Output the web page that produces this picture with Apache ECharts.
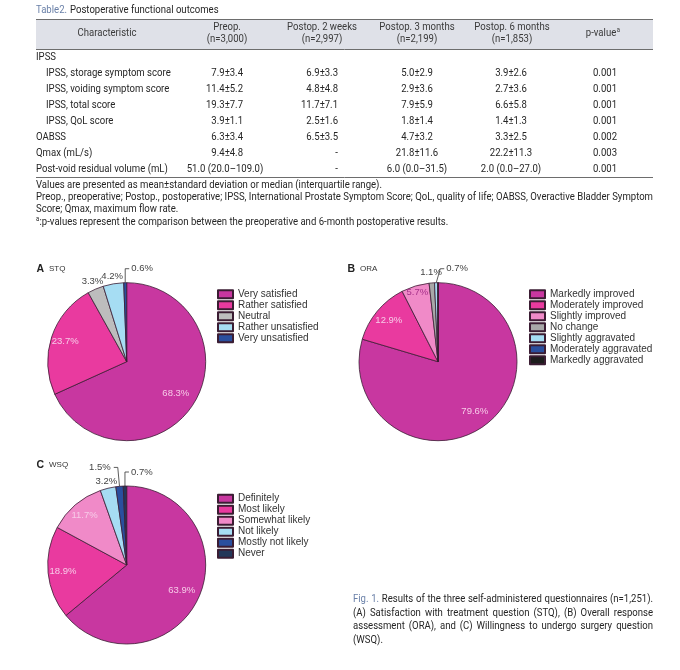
<!DOCTYPE html>
<html><head><meta charset="utf-8">
<script src="https://cdn.jsdelivr.net/npm/echarts@6/dist/echarts.min.js"></script>
<style>html,body{margin:0;padding:0;background:#fff}#c{width:680px;height:670px}</style>
</head><body><div id="c"></div><script>
// ---------------- DATA ----------------
const tableTitleTag = 'Table2.';
const tableTitleText = 'Postoperative functional outcomes';
const headerCharacteristic = 'Characteristic';
const headerGroups = ['Preop.', 'Postop. 2 weeks', 'Postop. 3 months', 'Postop. 6 months'];
const headerCounts = ['(n=3,000)', '(n=2,997)', '(n=2,199)', '(n=1,853)'];
const headerPValue = 'p-value';
const rowLabels = ['IPSS', 'IPSS, storage symptom score', 'IPSS, voiding symptom score', 'IPSS, total score', 'IPSS, QoL score', 'OABSS', 'Qmax (mL/s)', 'Post-void residual volume (mL)'];
const rowIndent = [0, 1, 1, 1, 1, 0, 0, 0];
const colPreop = ['', '7.9±3.4', '11.4±5.2', '19.3±7.7', '3.9±1.1', '6.3±3.4', '9.4±4.8', '51.0 (20.0–109.0)'];
const colWeek2 = ['', '6.9±3.3', '4.8±4.8', '11.7±7.1', '2.5±1.6', '6.5±3.5', '-', '-'];
const colMonth3 = ['', '5.0±2.9', '2.9±3.6', '7.9±5.9', '1.8±1.4', '4.7±3.2', '21.8±11.6', '6.0 (0.0–31.5)'];
const colMonth6 = ['', '3.9±2.6', '2.7±3.6', '6.6±5.8', '1.4±1.3', '3.3±2.5', '22.2±11.3', '2.0 (0.0–27.0)'];
const colPValue = ['', '0.001', '0.001', '0.001', '0.001', '0.002', '0.003', '0.001'];
const footnote1 = 'Values are presented as mean±standard deviation or median (interquartile range).';
const footnote2 = 'Preop., preoperative; Postop., postoperative; IPSS, International Prostate Symptom Score; QoL, quality of life; OABSS, Overactive Bladder Symptom';
const footnote3 = 'Score; Qmax, maximum flow rate.';
const footnote4 = ':p-values represent the comparison between the preoperative and 6-month postoperative results.';

const stqNames = ['Very satisfied', 'Rather satisfied', 'Neutral', 'Rather unsatisfied', 'Very unsatisfied'];
const stqValues = [68.3, 23.7, 3.3, 4.2, 0.6];
const oraNames = ['Markedly improved', 'Moderately improved', 'Slightly improved', 'No change', 'Slightly aggravated', 'Moderately aggravated', 'Markedly aggravated'];
const oraValues = [79.6, 12.9, 5.7, 1.1, 0.7, 0, 0];
const wsqNames = ['Definitely', 'Most likely', 'Somewhat likely', 'Not likely', 'Mostly not likely', 'Never'];
const wsqValues = [63.9, 18.9, 11.7, 3.2, 1.5, 0.7];

const captionTag = 'Fig. 1.';
const captionLine1 = 'Results of the three self-administered questionnaires (n=1,251).';
const captionLine2 = '(A) Satisfaction with treatment question (STQ), (B) Overall response';
const captionLine3 = 'assessment (ORA), and (C) Willingness to undergo surgery question';
const captionLine4 = '(WSQ).';

// ---------------- STYLE ----------------
const stqColors = ['#c837a0', '#e93a9f', '#bdbdbd', '#a6ddf3', '#2a4f9e'];
const oraColors = ['#c837a0', '#e93a9f', '#f08ac8', '#a8a8a8', '#a6ddf3', '#2a4f9e', '#1d1d1d'];
const wsqColors = ['#c837a0', '#e93a9f', '#f08ac8', '#a6ddf3', '#2a4f9e', '#233759'];
const stqSpecs = [{m:'in', d:0.74}, {m:'in', d:0.82}, {m:'out', d:1.1}, {m:'out', d:1.09}, {m:'bracket', k:0}];
const oraSpecs = [{m:'in', d:0.78}, {m:'in', d:0.81}, {m:'in', d:0.91, c:'#a6308a'}, {m:'out', d:1.13}, {m:'bracket', k:4}, {m:'none'}, {m:'none'}];
const wsqSpecs = [{m:'in', d:0.77}, {m:'in', d:0.81}, {m:'in', d:0.82}, {m:'out', d:1.09}, {m:'line', len:19}, {m:'bracket', k:0}];

const BLUE = '#6a80a8';
const INK = '#262626';
const FONT = '10.5px Roboto';
const CONDENSE = 0.91;
const mctx = document.createElement('canvas').getContext('2d');
function tw(s, font) { mctx.font = font; return mctx.measureText(s).width; }

const G = [];
function T(x, y, s, o) {
  o = o || {};
  const font = o.font || FONT;
  const sx = o.sx != null ? o.sx : CONDENSE;
  const al = o.align || 'left';
  G.push({type:'text', x:x, y:y, scaleX:sx, silent:true, z:10,
    style:{text:s, font:font, fill:o.fill || INK, align:al, textAlign:al, verticalAlign:'middle', textVerticalAlign:'middle'}});
  return tw(s, font) * sx;
}
// justified line: tokens [{t, fill}]
function J(x, y, tokens, width, font) {
  font = font || FONT;
  const words = [];
  tokens.forEach(tk => tk.t.split(' ').filter(w => w.length).forEach(w => words.push({t:w, fill:tk.fill})));
  let sum = 0; words.forEach(w => { w.w = tw(w.t, font); sum += w.w; });
  const space = tw(' ', font);
  let sx = CONDENSE;
  const natural = (sum + space * (words.length - 1)) * sx;
  if (natural > width) sx = width / (sum + space * (words.length - 1));
  const gap = (width - sum * sx) / (words.length - 1);
  let cx = x;
  words.forEach(w => { T(cx, y, w.t, {fill:w.fill, font:font, sx:sx}); cx += w.w * sx + gap; });
}
function L(x1, y1, x2, y2, c, w) {
  G.push({type:'line', silent:true, z:5, shape:{x1:x1, y1:y1, x2:x2, y2:y2}, style:{stroke:c, lineWidth:w}});
}

// ---------------- TABLE ----------------
const TX0 = 36, TX1 = 653;
const w0 = T(TX0, 10.5, tableTitleTag, {fill:BLUE});
T(TX0 + w0 + 3, 10.5, tableTitleText);
G.push({type:'rect', silent:true, z:1, shape:{x:TX0, y:19.5, width:TX1 - TX0, height:30}, style:{fill:'#dfe1e8'}});
L(TX0, 19.5, TX1, 19.5, '#6d6d6d', 1.2);
L(TX0, 49.5, TX1, 49.5, '#6d6d6d', 1);
L(TX0, 177.5, TX1, 177.5, '#6d6d6d', 1);
const headCenters = [227, 322, 417, 512];
T(107, 33.5, headerCharacteristic, {align:'center', fill:'#3a3a3a'});
headerGroups.forEach((h, i) => {
  T(headCenters[i], 27, h, {align:'center', fill:'#3a3a3a'});
  T(headCenters[i], 39.5, headerCounts[i], {align:'center', fill:'#3a3a3a'});
});
const pw = T(601, 33.5, headerPValue, {align:'center', fill:'#3a3a3a'});
T(601 + pw / 2 + 0.5, 30.5, 'a', {font:'6.5px Roboto', fill:'#3a3a3a'});

const cols = [colPreop, colWeek2, colMonth3, colMonth6, colPValue];
const colAnchor = [{x:243, a:'right', c:225}, {x:338, a:'right', c:325}, {x:417, a:'center', c:417}, {x:511, a:'center', c:511}, {x:605, a:'center', c:605}];
rowLabels.forEach((lab, r) => {
  const y = 57 + r * 16;
  T(TX0 + (rowIndent[r] ? 10 : 0), y, lab);
  cols.forEach((col, ci) => {
    const v = col[r]; if (!v) return;
    const an = colAnchor[ci];
    if (v.indexOf('(') >= 0) T(an.c, y, v, {align:'center'});
    else T(an.x, y, v, {align:an.a});
  });
});
T(TX0, 185, footnote1);
J(TX0, 197.5, [{t:footnote2}], TX1 - TX0);
T(TX0, 209.5, footnote3);
T(TX0, 219.5, 'a', {font:'6.5px Roboto'});
T(TX0 + 3.5, 222, footnote4);

// ---------------- PANEL TITLES ----------------
function panel(x, y, letter, abbr) {
  G.push({type:'text', x:x, y:y, silent:true, z:10, style:{text:letter, font:'bold 10.5px "Liberation Sans"', fill:'#222', align:'left', textAlign:'left', verticalAlign:'middle', textVerticalAlign:'middle'}});
  G.push({type:'text', x:x + 12.5, y:y, silent:true, z:10, style:{text:abbr, font:'8px "Liberation Sans"', fill:'#333', align:'left', textAlign:'left', verticalAlign:'middle', textVerticalAlign:'middle'}});
}
panel(36.5, 269, 'A', 'STQ');
panel(347.5, 269, 'B', 'ORA');
panel(36.5, 465, 'C', 'WSQ');

// ---------------- CAPTION ----------------
const CX = 353, CW = 300;
J(CX, 599, [{t:captionTag, fill:BLUE}, {t:captionLine1}], CW);
J(CX, 613, [{t:captionLine2}], CW);
J(CX, 626.5, [{t:captionLine3}], CW);
T(CX, 640, captionLine4);

// ---------------- PIES ----------------
const R = 79;
function pieSeries(names, values, colors, specs, center) {
  return {
    type:'pie', center:center, radius:R, startAngle:90, clockwise:true,
    avoidLabelOverlap:false, silent:true, animation:false,
    itemStyle:{borderColor:'#3b1d33', borderWidth:0.8},
    label:{show:true, position:'inside', fontFamily:'Liberation Sans', fontSize:9.5, color:'#f7cbe8',
      formatter: p => p.value.toFixed(1) + '%'},
    labelLine:{show:false},
    emphasis:{disabled:true},
    data: names.map((n, i) => {
      const s = specs[i];
      const d = {name:n, value:values[i], itemStyle:{color:colors[i]}};
      if (s.m === 'none') d.label = {show:false};
      else if (s.m === 'in') d.label = {position:'inside', color:s.c || '#f7cbe8'};
      else if (s.m === 'out') d.label = {position:'inside', color:'#444'};
      else {
        d.label = {position:'outside', color:'#444', distanceToLabelLine:3};
        d.labelLine = {show:true, length:s.len || 14, length2:4, smooth:false, lineStyle:{color:'#333', width:0.8}};
      }
      return d;
    }),
    labelLayout: function (p) {
      const s = specs[p.dataIndex];
      if (!s) return;
      if (s.m === 'in' || s.m === 'out') {
        const r = p.labelRect;
        const ax = r.x + r.width / 2, ay = r.y + r.height / 2;
        const dx = ax - center[0], dy = ay - center[1];
        const len = Math.hypot(dx, dy) || 1;
        return {x:center[0] + dx / len * s.d * R, y:center[1] + dy / len * s.d * R, align:'center', verticalAlign:'middle'};
      }
      if (s.m === 'bracket' && p.labelLinePoints) {
        const a = p.labelLinePoints[0], b = p.labelLinePoints[1];
        const k = s.k || 0;
        return {x:a[0] + k + 6, y:b[1], align:'left', verticalAlign:'middle',
          labelLinePoints:[[a[0], a[1]], [a[0] + k, b[1]], [a[0] + k + 4, b[1]]]};
      }
    }
  };
}
function legendFor(names, left, top) {
  return {data:names, left:left, top:top, orient:'vertical', icon:'rect', itemWidth:15, itemHeight:8, itemGap:1, padding:0,
    selectedMode:false, textStyle:{fontFamily:'Liberation Sans', fontSize:10, color:'#333'}};
}

const chart = echarts.init(document.getElementById('c'), null, {renderer:'canvas'});
chart.setOption({
  backgroundColor:'#fff',
  animation:false,
  legend:[legendFor(stqNames, 217, 289.3), legendFor(oraNames, 529, 289.3), legendFor(wsqNames, 217, 493.7)],
  series:[
    pieSeries(stqNames, stqValues, stqColors, stqSpecs, [126.7, 361.7]),
    pieSeries(oraNames, oraValues, oraColors, oraSpecs, [438, 361.7]),
    pieSeries(wsqNames, wsqValues, wsqColors, wsqSpecs, [126.7, 565])
  ],
  graphic:{elements:G}
});
</script></body></html>
